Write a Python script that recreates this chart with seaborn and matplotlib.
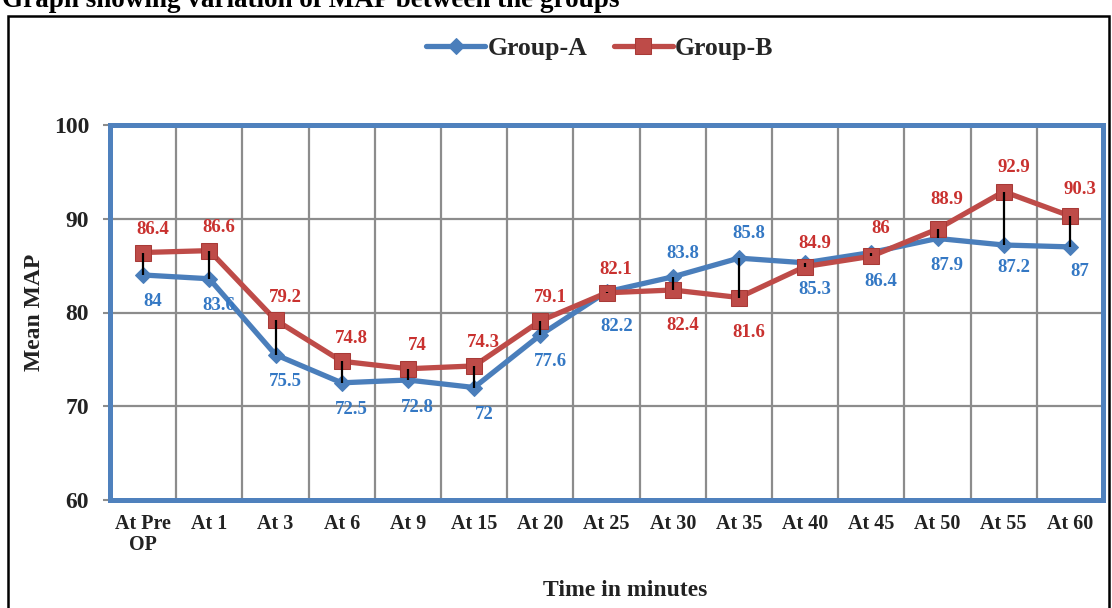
import numpy as np
import pandas as pd
import matplotlib
matplotlib.use("Agg")
import matplotlib.pyplot as plt
from matplotlib.patches import Rectangle
import seaborn as sns

# ---- data ----
times = ["At Pre\nOP", "At 1", "At 3", "At 6", "At 9", "At 15", "At 20", "At 25",
         "At 30", "At 35", "At 40", "At 45", "At 50", "At 55", "At 60"]
group_a = [84, 83.6, 75.5, 72.5, 72.8, 72, 77.6, 82.2, 83.8, 85.8, 85.3, 86.4, 87.9, 87.2, 87]
group_b = [86.4, 86.6, 79.2, 74.8, 74, 74.3, 79.1, 82.1, 82.4, 81.6, 84.9, 86, 88.9, 92.9, 90.3]
group_names = ["Group-A", "Group-B"]
y_ticks = [60, 70, 80, 90, 100]

# label placement (pixels, + = above the point, - = below)
a_label_dy = [-27, -27, -27, -27, -27, -27, -27, -35, 23, 25, -27, -29, -27, -22, -25]
b_label_dy = [23, 23, 23, 23, 23, 23, 23, 23, -35, -35, 23, 28, 30, 24, 26]

BLUE = "#4a7ebb"
RED = "#be4b48"
BLUE_TXT = "#3478c4"
RED_TXT = "#c9312f"
FRAME = "#4f81bd"

sns.set_style("white")
plt.rcParams["font.family"] = ["Liberation Serif", "DejaVu Serif"]
plt.rcParams["font.weight"] = "bold"

W, H = 1112, 608
fig = plt.figure(figsize=(W / 100, H / 100), dpi=100)
ax = fig.add_axes([110 / W, 1 - 500 / H, (1103 - 110) / W, (500 - 125) / H])

idx = np.arange(len(times))
df = pd.DataFrame({
    "idx": np.concatenate([idx, idx]),
    "MAP": group_a + group_b,
    "Group": [group_names[0]] * len(idx) + [group_names[1]] * len(idx),
})

# grid
for yv in y_ticks[1:-1]:
    ax.axhline(yv, color="#8c8c8c", lw=1.6, zorder=0)
for k in range(len(times) - 1):
    ax.axvline(k + 0.5, color="#8c8c8c", lw=1.6, zorder=0)

sns.lineplot(data=df[df.Group == "Group-A"], x="idx", y="MAP", color=BLUE,
             marker="D", markersize=8.5, markeredgecolor=BLUE, linewidth=3.8,
             ax=ax, label="Group-A", zorder=3)
sns.lineplot(data=df[df.Group == "Group-B"], x="idx", y="MAP", color=RED,
             marker="s", markersize=12, markeredgecolor="#a83a37", linewidth=3.8,
             ax=ax, label="Group-B", zorder=4)

# high-low (drop) lines
ax.vlines(idx, np.minimum(group_a, group_b), np.maximum(group_a, group_b),
          color="black", lw=1.6, zorder=5)

# data labels
for i in idx:
    ax.annotate(f"{group_a[i]:g}", (i, group_a[i]), xytext=(7, a_label_dy[i] * 0.72),
                textcoords="offset points", ha="center", va="center",
                color=BLUE_TXT, fontsize=13.5, fontweight="bold", zorder=6)
    ax.annotate(f"{group_b[i]:g}", (i, group_b[i]), xytext=(7, b_label_dy[i] * 0.72),
                textcoords="offset points", ha="center", va="center",
                color=RED_TXT, fontsize=13.5, fontweight="bold", zorder=6)

ax.set_xlim(-0.5, len(times) - 0.5)
ax.set_ylim(60, 100)
ax.set_yticks(y_ticks)
ax.set_yticklabels([str(v) for v in y_ticks], fontsize=17, fontweight="bold", color="#222222")
ax.set_xticks(idx)
ax.set_xticklabels(times, fontsize=14.5, fontweight="bold", color="#222222", linespacing=1.1)
ax.tick_params(axis="x", length=0, pad=10)
ax.tick_params(axis="y", length=5, width=1.5, color="#8c8c8c", pad=10, left=True)
ax.set_xlabel("")
ax.set_ylabel("")
for s in ax.spines.values():
    s.set_visible(True)
    s.set_color(FRAME)
    s.set_linewidth(3.6)

leg = ax.legend(loc="center", bbox_to_anchor=(600 / W, 1 - 48 / H),
                bbox_transform=fig.transFigure, ncol=2, frameon=False,
                prop={"family": "Liberation Serif", "weight": "bold", "size": 18.5},
                handlelength=2.3, handletextpad=0.1, columnspacing=1.0)

fig.text(625 / W, 1 - 590 / H, "Time in minutes", ha="center", va="center",
         fontsize=17, fontweight="bold", color="#222222")
fig.text(35 / W, 1 - 312 / H, "Mean MAP", ha="center", va="center", rotation=90,
         fontsize=17, fontweight="bold", color="#222222")
fig.text(2 / W, 1 - 7 / H, "Graph showing variation of MAP between the groups",
         ha="left", va="baseline", fontsize=19.5, fontweight="bold", color="black")

fig.add_artist(Rectangle((7.5 / W, -0.05), (1109 - 7.5) / W, 1.05 - 16 / H,
                         transform=fig.transFigure, fill=False, lw=1.8,
                         edgecolor="black"))

fig.savefig("out.png", dpi=100, facecolor="white")
